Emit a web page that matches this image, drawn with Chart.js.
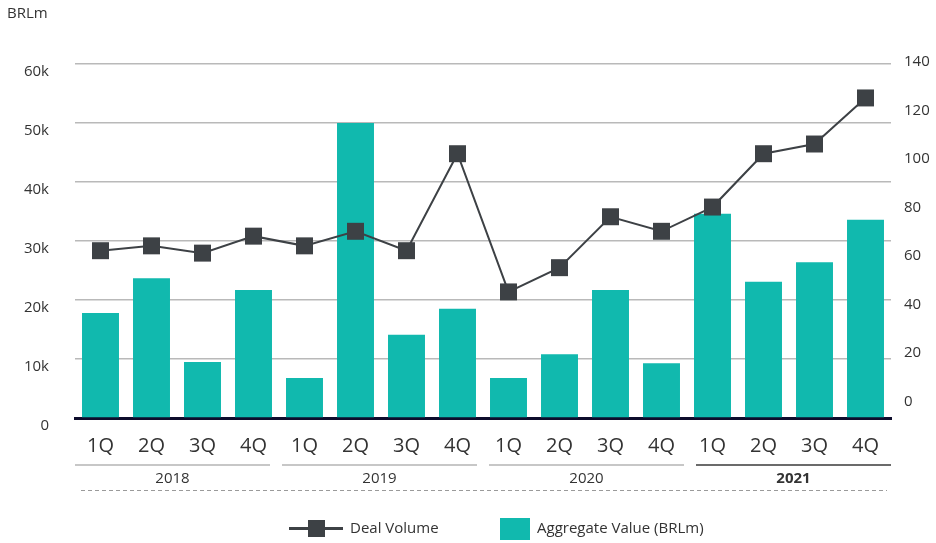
<!DOCTYPE html>
<html><head><meta charset="utf-8">
<script src="https://cdn.jsdelivr.net/npm/chart.js@4/dist/chart.umd.min.js"></script>
<style>
body{margin:0;background:#fff;font-family:"Open Sans",sans-serif;}
#wrap{position:relative;width:936px;height:543px;overflow:hidden;}
#c{position:absolute;left:0;top:0;}
.t{position:absolute;font-size:15px;color:#333;white-space:nowrap;line-height:1;}
</style></head><body>
<div id="wrap">
<canvas id="c" width="936" height="543"></canvas>
<div class="t" style="left:7px;top:5px;">BRLm</div>
<div style="position:absolute;left:289px;top:527px;width:54px;height:3px;background:#3d4145;"></div>
<div style="position:absolute;left:308px;top:520px;width:17px;height:17px;background:#3d4145;"></div>
<div class="t" style="left:350px;top:520px;">Deal Volume</div>
<div style="position:absolute;left:500px;top:518px;width:30px;height:22px;background:#11b9ae;"></div>
<div class="t" style="left:537px;top:520px;">Aggregate Value (BRLm)</div>
</div>
<script>
const quarters = ['1Q','2Q','3Q','4Q','1Q','2Q','3Q','4Q','1Q','2Q','3Q','4Q','1Q','2Q','3Q','4Q'];
const years = ['2018','2019','2020','2021'];
const aggregateValue = [17800, 23700, 9500, 21700, 6800, 50000, 14100, 18500, 6800, 10800, 21700, 9300, 34600, 23100, 26400, 33600];
const dealVolume = [63, 65, 62, 69, 65, 71, 63, 103, 46, 56, 77, 71, 81, 103, 107, 126];
const leftTicks = [0, 10000, 20000, 30000, 40000, 50000, 60000];
const rightTicks = [0, 20, 40, 60, 80, 100, 120, 140];

Chart.defaults.font.family = '"Open Sans", sans-serif';
Chart.defaults.color = '#333';

const yearPlugin = {
  id: 'years',
  afterDraw(chart) {
    const ctx = chart.ctx, a = chart.chartArea;
    const gap = 12;
    const w = (a.right - a.left - gap * (years.length - 1)) / years.length;
    ctx.save();
    years.forEach((y, i) => {
      const x0 = a.left + i * (w + gap);
      const last = i === years.length - 1;
      ctx.strokeStyle = last ? '#6b6b6b' : '#8f8f8f';
      ctx.lineWidth = last ? 2 : 1;
      ctx.beginPath(); ctx.moveTo(x0, 465); ctx.lineTo(x0 + w, 465); ctx.stroke();
      ctx.fillStyle = '#333';
      ctx.font = (last ? 'bold ' : '') + '15px "Open Sans", sans-serif';
      ctx.textAlign = 'center'; ctx.textBaseline = 'middle';
      ctx.fillText(y, x0 + w / 2, 479);
    });
    ctx.strokeStyle = '#9a9a9a'; ctx.lineWidth = 1;
    ctx.setLineDash([4, 3]);
    ctx.beginPath(); ctx.moveTo(a.left + 6, 490.5); ctx.lineTo(a.right - 4, 490.5); ctx.stroke();
    ctx.restore();
  }
};

new Chart(document.getElementById('c'), {
  data: {
    labels: quarters,
    datasets: [
      { type: 'line', label: 'Deal Volume', data: dealVolume, yAxisID: 'y1', order: 0,
        borderColor: '#3d4145', borderWidth: 2, pointStyle: 'rect', pointRadius: 12,
        pointHoverRadius: 12, pointBackgroundColor: '#3d4145', pointBorderWidth: 0, tension: 0 },
      { type: 'bar', label: 'Aggregate Value (BRLm)', data: aggregateValue, yAxisID: 'y', order: 1,
        backgroundColor: '#11b9ae', barPercentage: 0.725, categoryPercentage: 1 }
    ]
  },
  options: {
    responsive: false, animation: false, devicePixelRatio: 1,
    layout: { padding: { top: 64, left: 0, right: 0, bottom: 0 } },
    plugins: { legend: { display: false }, tooltip: { enabled: false } },
    scales: {
      x: {
        grid: { display: false },
        border: { display: true, color: '#0d0c2b', width: 3 },
        ticks: { font: { size: 20 }, color: '#333', padding: 8, maxRotation: 0, autoSkip: false },
        afterFit(s) { s.height = 125; }
      },
      y: {
        position: 'left', min: 0, max: 60000,
        afterBuildTicks(s) { s.ticks = leftTicks.map(v => ({ value: v })); },
        grid: { color: '#b9b9b9', lineWidth: 1.5, drawTicks: false },
        border: { display: false },
        ticks: { font: { size: 15 }, color: '#333', padding: 26, labelOffset: 8,
          callback: v => v === 0 ? '0' : (v / 1000) + 'k' },
        afterFit(s) { s.width = 75; }
      },
      y1: {
        position: 'right', min: -6, max: 140,
        afterBuildTicks(s) { s.ticks = rightTicks.map(v => ({ value: v })); },
        grid: { display: false, drawTicks: false },
        border: { display: false },
        ticks: { font: { size: 15 }, color: '#333', padding: 13, labelOffset: -2 },
        afterFit(s) { s.width = 45; }
      }
    }
  },
  plugins: [yearPlugin]
});
</script>
</body></html>
